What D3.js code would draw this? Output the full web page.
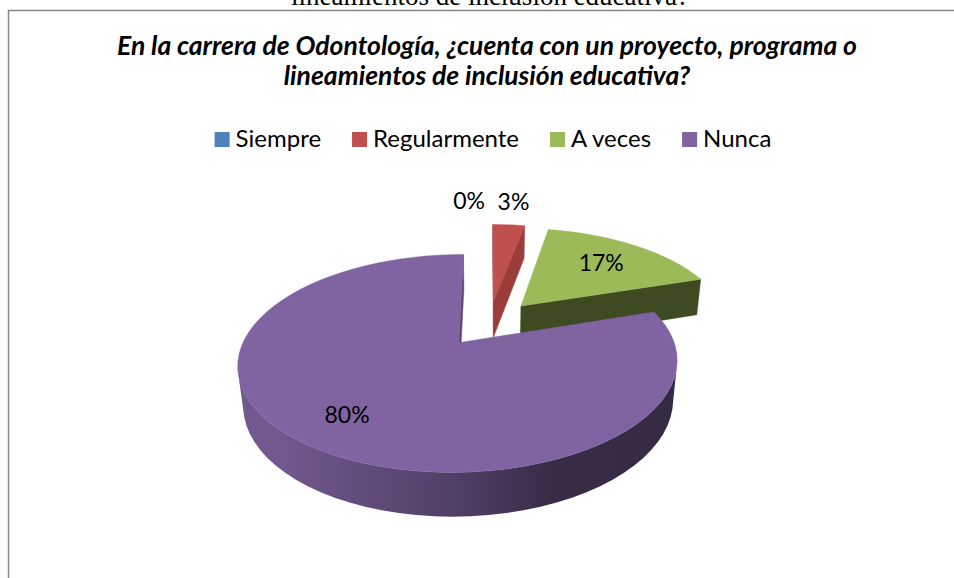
<!DOCTYPE html>
<html>
<head>
<meta charset="UTF-8">
<style>
  body { margin: 0; background: #fff; }
  svg { display: block; }
  .caption { font-family: "Liberation Serif", "Times New Roman", serif; font-size: 27px; }
  .title { font-family: Lato, "Open Sans", sans-serif; font-weight: bold; font-style: italic; font-size: 26.5px; }
  .legend text { font-family: Lato, "Open Sans", sans-serif; font-size: 24px; }
  .label { font-family: Lato, "Open Sans", sans-serif; font-size: 23px; }
</style>
</head>
<body>
<svg></svg>
<script src="https://d3js.org/d3.v7.min.js"></script>
<script>

// data
const categories = ["Siempre", "Regularmente", "A veces", "Nunca"];
const values = [0, 3, 17, 80];
const titleLines = ["En la carrera de Odontología, ¿cuenta con un proyecto, programa o",
                    "lineamientos de inclusión educativa?"];
const captionAbove = "lineamientos de inclusión educativa?";

const width = 954, height = 578;
const svg = d3.select("svg").attr("width", width).attr("height", height);

const color = d3.scaleOrdinal(categories, ["#4f81bd", "#c0504d", "#9bbb59", "#8064a2"]);
const faceColor = d3.scaleOrdinal(categories, ["#3b6391", "#9b3d3b", "#3e4a22", "#5d4879"]);

// text of the page above the chart, cut by the top edge
svg.append("text").attr("class", "caption")
  .attr("x", 490).attr("y", 5)
  .attr("text-anchor", "middle")
  .text(captionAbove);

// chart frame (right and bottom edges are outside the picture)
svg.append("path")
  .attr("d", "M8.5," + (height + 2) + "V10.5H" + (width + 2))
  .attr("fill", "none")
  .attr("stroke", "#878787")
  .attr("stroke-width", 1.5);

svg.selectAll(".title")
  .data(titleLines)
  .enter().append("text")
  .attr("class", "title")
  .attr("x", 487)
  .attr("y", (d, i) => 55 + i * 30)
  .attr("text-anchor", "middle")
  .text(d => d);

// legend
let legend = svg.append("g").attr("class", "legend");
let items = legend.selectAll("g")
  .data(categories)
  .enter().append("g");
items.append("rect")
  .attr("width", 15).attr("height", 15)
  .attr("y", 132)
  .attr("fill", d => color(d));
items.append("text")
  .attr("y", 147)
  .text(d => d);
let lx = 0;
items.each(function() {
  let g = d3.select(this);
  let w = g.select("text").node().getComputedTextLength();
  g.select("rect").attr("x", lx);
  g.select("text").attr("x", lx + 21);
  lx += 21 + w + 31;
});
legend.attr("transform", "translate(" + (493 - (lx - 31) / 2) + ",0)");

// 3d pie: simple perspective camera looking down at the pie plane
const tilt = 28 * Math.PI / 180, camDist = 4.8, focal = 998, cx = 489, cy = 323;
const explode = 0.24, thick = 0.21, steps = 1 / 90;
const cam = [0, -camDist * Math.cos(tilt), camDist * Math.sin(tilt)];

function proj(p) {
  let u = p[0], v = p[1], z = p[2];
  let y = v * Math.sin(tilt) + z * Math.cos(tilt);
  let depth = camDist + v * Math.cos(tilt) - z * Math.sin(tilt);
  return [cx + focal * u / depth, cy - focal * y / depth];
}
function facing(p, n) {
  return (cam[0] - p[0]) * n[0] + (cam[1] - p[1]) * n[1] + (cam[2] - p[2]) * n[2] > 0;
}
let poly = pts => d3.line()(pts.map(proj)) + "Z";

let arcs = d3.pie().sort(null).value(d => d)(values)
  .map((a, i) => {
    let mid = (a.startAngle + a.endAngle) / 2;
    a.cat = categories[i];
    a.mid = mid;
    a.ou = explode * Math.sin(mid);
    a.ov = explode * Math.cos(mid);
    return a;
  });

let rim = (a, ang, z) => [a.ou + Math.sin(ang), a.ov + Math.cos(ang), z];

let defs = svg.append("defs");
let grad = defs.append("linearGradient")
  .attr("id", "side")
  .attr("gradientUnits", "userSpaceOnUse")
  .attr("x1", proj([-1, 0, 0])[0]).attr("x2", proj([1, 0, 0])[0]);
grad.selectAll("stop")
  .data([[0, 0.35], [0.45, 1.4], [0.65, 2.3], [1, 2.45]])
  .enter().append("stop")
  .attr("offset", d => d[0])
  .attr("stop-color", d => d3.color(color("Nunca")).darker(d[1]));

let pie = svg.append("g");

// back slices first
arcs.filter(a => a.value > 0)
  .sort((a, b) => b.ov - a.ov)
  .forEach(a => {
    let g = pie.append("g");
    let n = Math.max(2, Math.ceil((a.endAngle - a.startAngle) / (Math.PI * 2 * steps)));
    let angs = d3.range(n + 1).map(k => a.startAngle + (a.endAngle - a.startAngle) * k / n);
    let apexTop = [a.ou, a.ov, 0], apexBot = [a.ou, a.ov, -thick];

    // radial faces
    [[a.startAngle, -1], [a.endAngle, 1]].forEach(([ang, s]) => {
      let nrm = [s * Math.cos(ang), -s * Math.sin(ang), 0];
      let m = [a.ou + 0.5 * Math.sin(ang), a.ov + 0.5 * Math.cos(ang), -thick / 2];
      if (!facing(m, nrm)) return;
      g.append("path")
        .attr("d", poly([apexTop, rim(a, ang, 0), rim(a, ang, -thick), apexBot]))
        .attr("fill", faceColor(a.cat))
        .attr("stroke", faceColor(a.cat)).attr("stroke-width", 0.5);
    });

    // outer side, only the parts turned to the camera
    let runs = [], cur = null;
    for (let k = 0; k < n; k++) {
      let am = (angs[k] + angs[k + 1]) / 2;
      let vis = facing(rim(a, am, -thick / 2), [Math.sin(am), Math.cos(am), 0]);
      if (vis) {
        if (!cur) { cur = [angs[k]]; runs.push(cur); }
        cur.push(angs[k + 1]);
      } else cur = null;
    }
    runs.forEach(r => {
      let pts = r.map(t => rim(a, t, 0)).concat(r.slice().reverse().map(t => rim(a, t, -thick)));
      g.append("path")
        .attr("d", poly(pts))
        .attr("fill", a.cat == "Nunca" ? "url(#side)" : faceColor(a.cat));
    });

    // top face
    g.append("path")
      .attr("d", poly([apexTop].concat(angs.map(t => rim(a, t, 0)))))
      .attr("fill", color(a.cat))
      .attr("stroke", color(a.cat)).attr("stroke-width", 0.5);
  });

// data labels: inside for big slices, outside for small ones
let total = d3.sum(values);
arcs.forEach(a => {
  let share = a.value / total;
  let inside = share > 0.1;
  let r = inside ? (share > 0.5 ? 0.75 : 0.68) : 1.38;
  let p = proj([a.ou + r * Math.sin(a.mid), a.ov + r * Math.cos(a.mid), 0]);
  let zero = a.value == 0;
  svg.append("text")
    .attr("class", "label")
    .attr("x", zero ? p[0] - 4 : p[0])
    .attr("y", p[1] + 8)
    .attr("text-anchor", zero ? "end" : "middle")
    .text(d3.format(".0%")(share));
});

</script>
</body>
</html>
